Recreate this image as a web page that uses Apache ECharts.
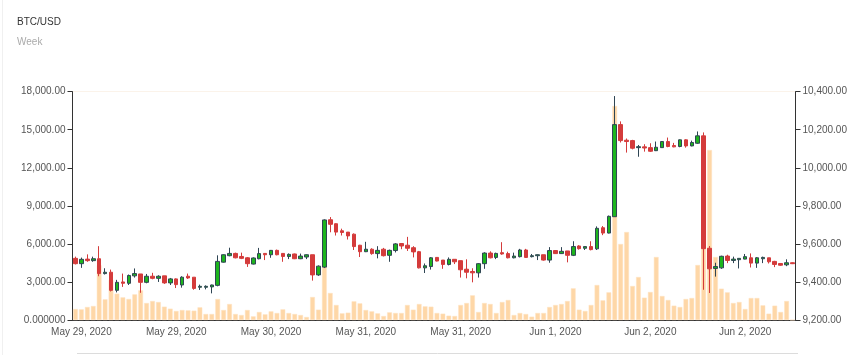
<!DOCTYPE html>
<html>
<head>
<meta charset="utf-8">
<script src="https://cdn.jsdelivr.net/npm/echarts@6/dist/echarts.min.js"></script>
<style>
html,body{margin:0;padding:0;background:#fff;}
#chart{width:862px;height:355px;}
</style>
</head>
<body>
<div id="chart"></div>
<script>
// Hourly candles starting 2020-05-28 23:00
var startTime = Date.UTC(2020, 4, 28, 23, 0, 0);
var candleCount = 122;

// [open, close, low, high]
var ohlc = [
[9524,9496,9492,9533],[9496,9519,9474,9528],[9520,9512,9506,9545],[9512,9522,9506,9533],
[9522,9444,9430,9588],[9444,9451,9439,9472],[9451,9356,9350,9465],[9356,9398,9345,9411],
[9400,9393,9374,9444],[9393,9434,9384,9439],[9432,9444,9423,9471],[9442,9398,9343,9442],
[9398,9430,9393,9442],[9430,9419,9414,9448],[9419,9430,9400,9435],[9432,9395,9390,9432],
[9395,9416,9384,9421],[9416,9386,9368,9419],[9384,9425,9370,9430],[9430,9421,9416,9444],
[9425,9366,9359,9425],[9372,9377,9358,9386],[9372,9377,9361,9382],[9374,9384,9340,9386],
[9382,9508,9377,9540],[9504,9543,9502,9545],[9538,9550,9535,9580],[9550,9527,9524,9554],
[9534,9524,9520,9554],[9527,9496,9479,9531],[9494,9526,9492,9529],[9522,9549,9519,9579],
[9550,9543,9515,9552],[9543,9566,9527,9568],[9566,9543,9540,9570],[9550,9534,9506,9550],
[9534,9545,9520,9550],[9547,9522,9520,9549],[9522,9536,9520,9549],[9531,9543,9520,9545],
[9543,9437,9407,9543],[9437,9483,9432,9487],[9478,9726,9473,9729],[9727,9703,9661,9741],
[9706,9662,9644,9708],[9669,9660,9644,9680],[9662,9642,9623,9662],[9651,9586,9568,9655],
[9593,9559,9531,9595],[9559,9572,9557,9611],[9572,9549,9543,9577],[9549,9566,9524,9588],
[9572,9538,9534,9579],[9540,9566,9506,9570],[9565,9600,9555,9604],[9602,9589,9572,9604],
[9593,9577,9563,9637],[9580,9558,9529,9588],[9559,9474,9471,9563],[9474,9485,9447,9497],
[9481,9527,9465,9531],[9529,9510,9508,9531],[9515,9492,9469,9515],[9492,9519,9487,9529],
[9519,9506,9494,9519],[9512,9464,9423,9512],[9467,9451,9419,9519],[9455,9448,9398,9472],
[9448,9496,9423,9499],[9496,9552,9469,9556],[9552,9527,9524,9561],[9529,9550,9520,9554],
[9554,9547,9543,9609],[9549,9527,9524,9559],[9527,9536,9524,9554],[9533,9568,9529,9574],
[9568,9529,9526,9574],[9533,9538,9529,9547],[9538,9543,9515,9545],[9543,9515,9512,9543],
[9515,9565,9501,9583],[9565,9549,9547,9566],[9549,9561,9547,9583],[9563,9540,9503,9563],
[9540,9586,9536,9614],[9589,9575,9570,9593],[9577,9586,9568,9586],[9586,9570,9566,9614],
[9574,9682,9568,9692],[9685,9657,9646,9694],[9657,9745,9655,9749],[9743,10227,9743,10377],
[10227,10143,10133,10244],[10145,10138,10080,10154],[10143,10103,10097,10147],[10106,10111,10058,10120],
[10110,10104,10085,10124],[10106,10087,10083,10129],[10090,10108,10088,10138],[10106,10138,10104,10140],
[10138,10112,10108,10159],[10117,10110,10108,10131],[10112,10147,10108,10149],[10147,10115,10106,10150],
[10115,10133,10113,10143],[10129,10168,10126,10191],[10168,9575,9359,10186],[9577,9469,9342,9589],
[9471,9481,9428,9501],[9474,9535,9469,9538],[9536,9513,9499,9543],[9513,9520,9499,9533],
[9517,9524,9471,9524],[9520,9533,9519,9547],[9527,9499,9476,9550],[9499,9527,9474,9531],
[9522,9529,9499,9533],[9527,9506,9497,9527],[9508,9492,9478,9511],[9497,9488,9485,9497],
[9490,9501,9483,9519],[9501,9496,9494,9503]
];

var volume = [
867,841,1025,1104,4310,1630,3154,2076,1787,1656,2024,2339,1340,1498,1419,1051,
894,710,788,762,736,1000,473,473,1656,788,1261,473,394,788,289,631,
447,683,552,841,552,473,394,237,1813,815,5387,2129,1183,526,578,1472,
1314,788,683,526,315,604,552,552,1183,815,1261,1077,1051,552,500,342,
315,1183,1340,1945,631,1340,1261,552,1419,1577,394,552,473,263,552,552,
1025,1183,1261,1498,2497,815,710,1183,2759,1550,2181,16872,5992,6938,2681,3390,
1761,2208,4967,1892,1577,1130,1025,1656,1734,4336,10200,13403,4967,2470,2181,1340,
1419,867,1734,1734,1156,500,1130,631,1498,0
];

var monthNames = ['Jan','Feb','Mar','Apr','May','Jun','Jul','Aug','Sep','Oct','Nov','Dec'];
var categories = [];
for (var i = 0; i < candleCount; i++) {
  var d = new Date(startTime + i * 3600000);
  categories.push(d.toISOString());
}
function dateLabel(v) {
  var d = new Date(v);
  return monthNames[d.getUTCMonth()] + ' ' + d.getUTCDate() + ', ' + d.getUTCFullYear();
}
function fmt(v) {
  return v.toLocaleString('en-US', {minimumFractionDigits: 2, maximumFractionDigits: 2});
}

var chart = echarts.init(document.getElementById('chart'));
chart.setOption({
  animation: false,
  backgroundColor: '#fff',
  title: {
    text: 'BTC/USD',
    subtext: 'Week',
    left: 12,
    top: 12,
    itemGap: 10,
    textStyle: {fontSize: 10, fontWeight: 'normal', color: '#333', fontFamily: 'Liberation Sans'},
    subtextStyle: {fontSize: 10, color: '#aaa', fontFamily: 'Liberation Sans'}
  },
  grid: {left: 72.5, right: 66.5, top: 91.7, bottom: 35},
  xAxis: {
    type: 'category',
    data: categories,
    boundaryGap: true,
    axisLine: {lineStyle: {color: '#333', width: 1}},
    axisTick: {
      alignWithLabel: true,
      length: 5,
      interval: function (i) { return i % 16 === 9; },
      lineStyle: {color: '#333'}
    },
    axisLabel: {
      interval: function (i) { return i % 16 === 1; },
      formatter: function (v) { return dateLabel(v); },
      fontSize: 10,
      color: '#555',
      fontFamily: 'Liberation Sans',
      margin: 7
    },
    splitLine: {show: false}
  },
  yAxis: [
    {
      type: 'value',
      position: 'left',
      min: 0, max: 18000, interval: 3000,
      axisLine: {show: true, lineStyle: {color: '#333'}},
      axisTick: {show: true, length: 5, lineStyle: {color: '#333'}},
      axisLabel: {
        formatter: function (v) { return v === 0 ? '0.000000' : fmt(v); },
        fontSize: 10, color: '#555', fontFamily: 'Liberation Sans', margin: 7
      },
      splitLine: {show: false}
    },
    {
      type: 'value',
      position: 'right',
      min: 9200, max: 10400, interval: 200,
      axisLine: {show: true, lineStyle: {color: '#333'}},
      axisTick: {show: true, length: 5, lineStyle: {color: '#333'}},
      axisLabel: {
        formatter: function (v) { return fmt(v); },
        fontSize: 10, color: '#555', fontFamily: 'Liberation Sans', margin: 7
      },
      splitLine: {show: false}
    }
  ],
  series: [
    {
      name: 'Volume',
      type: 'bar',
      yAxisIndex: 0,
      data: volume,
      barCategoryGap: '20%',
      itemStyle: {color: '#fed7a7', borderColor: '#ffe3c2', borderWidth: 0.5},
      z: 1
    },
    {
      name: 'BTC/USD',
      type: 'candlestick',
      yAxisIndex: 1,
      data: ohlc,
      barWidth: '68%',
      itemStyle: {
        color: '#1db51d',
        color0: '#d43b3b',
        borderColor: '#2f4554',
        borderColor0: '#d43b3b',
        borderWidth: 1
      },
      z: 2
    }
  ],
  graphic: [
    {type: 'line', shape: {x1: 77, y1: 353.5, x2: 798, y2: 353.5}, style: {stroke: '#dcdcdc', lineWidth: 1}, silent: true},
    {type: 'line', shape: {x1: 73, y1: 91.5, x2: 795, y2: 91.5}, style: {stroke: '#fbf3ea', lineWidth: 1}, silent: true},
    {type: 'line', shape: {x1: 2.5, y1: 0, x2: 2.5, y2: 355}, style: {stroke: '#f0f0f0', lineWidth: 1}, silent: true}
  ]
});
</script>
</body>
</html>
